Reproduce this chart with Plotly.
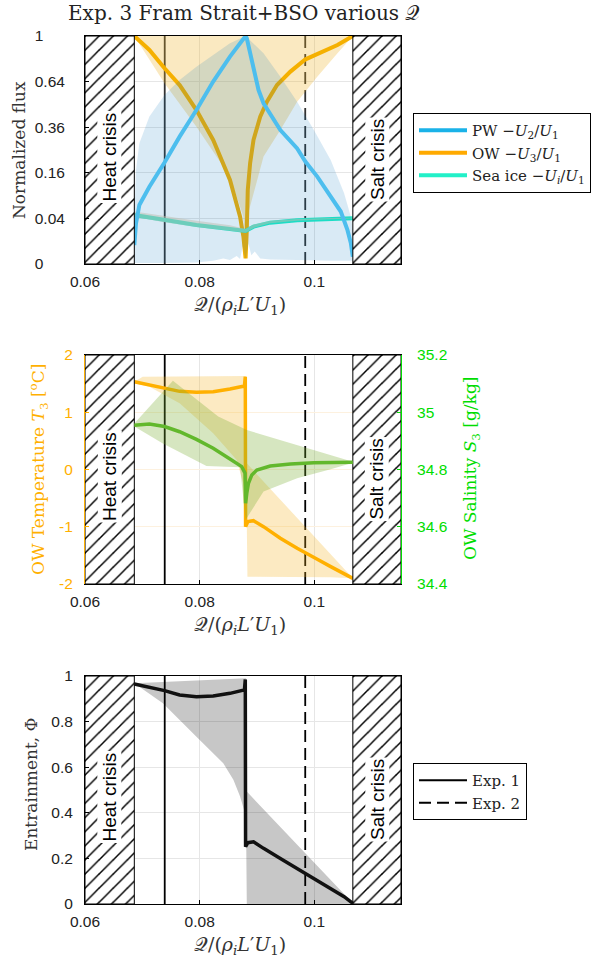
import plotly.graph_objects as go

W, H = 605, 965

# ---------------- constants / data ----------------
Q_MIN, Q_MAX = 0.06, 0.1151
HEAT_CRISIS_Q = 0.0686
SALT_CRISIS_Q = 0.1067
EXP1_Q = 0.0739
EXP2_Q = 0.0984

X_TICKS = [0.06, 0.08, 0.1]
X_TICK_LABELS = ["0.06", "0.08", "0.1"]

NB = "\u00a0"
FLUX_TICKS = [0, 0.04, 0.16, 0.36, 0.64, 1]
FLUX_TICK_LABELS = ["0" + NB * 5, "0.04", "0.16", "0.36", "0.64", "1" + NB * 5]

T_TICKS = [-2, -1, 0, 1, 2]
T_TICK_LABELS = ["-2", "-1", "0", "1", "2"]
S_TICKS = [34.4, 34.6, 34.8, 35.0, 35.2]
S_TICK_LABELS = ["34.4", "34.6", "34.8", "35", "35.2"]
PHI_TICKS = [0, 0.2, 0.4, 0.6, 0.8, 1]
PHI_TICK_LABELS = ["0", "0.2", "0.4", "0.6", "0.8", "1"]

# Panel 1: normalized fluxes
pw_q = [0.0686, 0.06889, 0.06948, 0.07123, 0.07387, 0.0765, 0.07943, 0.08235, 0.08528, 0.0880,
        0.08821, 0.08868, 0.08938, 0.09026, 0.09113, 0.09406, 0.09699, 0.09845, 0.1005, 0.10284,
        0.1046, 0.10577, 0.10636, 0.1067]
pw_flux = [0.0069, 0.0317, 0.067, 0.115, 0.198, 0.312, 0.456, 0.64, 0.827, 1.0,
           0.98, 0.881, 0.724, 0.582, 0.497, 0.345, 0.257, 0.201, 0.147, 0.087,
           0.053, 0.022, 0.0082, 0.001]

ow_q = [0.0686, 0.07123, 0.07387, 0.0765, 0.07943, 0.08235, 0.08528, 0.08704, 0.08762, 0.0880,
        0.08821, 0.08838, 0.08879, 0.08938, 0.09055, 0.09172, 0.09348, 0.09582, 0.09845, 0.10109,
        0.10402, 0.1067]
ow_flux = [1.0, 0.881, 0.737, 0.616, 0.456, 0.296, 0.136, 0.043, 0.0144, 0.0006,
           0.0222, 0.105, 0.195, 0.296, 0.418, 0.507, 0.616, 0.712, 0.806, 0.859,
           0.923, 1.0]

ice_q = [0.0686, 0.07358, 0.07943, 0.08528, 0.0880, 0.08938, 0.0923, 0.09699, 0.10284, 0.1067]
ice_flux = [0.0462, 0.0372, 0.0293, 0.0236, 0.0210, 0.0268, 0.0329, 0.0367, 0.0390, 0.0401]
ice_band_hi = [0.053, 0.045, 0.036, 0.029, 0.0235, 0.030, 0.036, 0.039, 0.0405, 0.041]
ice_band_lo = [0.043, 0.034, 0.0265, 0.0212, 0.0188, 0.0250, 0.0318, 0.0360, 0.0386, 0.0398]

pw_band_hi_q = [0.0686, 0.06889, 0.06948, 0.07123, 0.07387, 0.0765, 0.07943, 0.08235, 0.08528, 0.0880,
                0.09113, 0.09406, 0.09699, 0.09991, 0.10284, 0.10518, 0.10636, 0.1067]
pw_band_hi = [0.043, 0.170, 0.280, 0.418, 0.549, 0.651, 0.749, 0.840, 0.937, 1.0,
              0.854, 0.675, 0.507, 0.345, 0.208, 0.096, 0.043, 0.022]
pw_band_lo_q = [0.0686, 0.07358, 0.07943, 0.08235, 0.08411, 0.08528, 0.08645, 0.08704, 0.0875, 0.0880,
                0.0885, 0.0890, 0.0896, 0.09055, 0.0923, 0.09699, 0.10284, 0.1067]
pw_band_lo = [0.00002, 0.00002, 0.00004, 0.0002, 0.0006, 0.0003, 0.0012, 0.0005, 0.006, 0.0004,
              0.008, 0.0015, 0.003, 0.0006, 0.0004, 0.0003, 0.0002, 0.0002]

ow_band_q = [0.0686, 0.07387, 0.07943, 0.08528, 0.08762, 0.0880, 0.0883, 0.09113, 0.09406, 0.09699,
             0.1005, 0.10402, 0.1067]
ow_band_lo = [1.0, 0.628, 0.363, 0.147, 0.043, 0.008, 0.043, 0.222, 0.345, 0.507,
              0.675, 0.854, 1.0]
ow_band_hi = [1.0] * len(ow_band_q)

# Panel 2: OW temperature and salinity
t3_q = [0.0686, 0.07123, 0.07387, 0.0765, 0.07943, 0.08235, 0.08528, 0.0878, 0.08795, 0.0880,
        0.0884, 0.08938, 0.09113, 0.09406, 0.09699, 0.09845, 0.1005, 0.10284, 0.10518, 0.1067]
t3 = [1.534, 1.476, 1.418, 1.365, 1.348, 1.360, 1.406, 1.459, 1.622, -0.998,
      -0.911, -0.894, -0.998, -1.202, -1.377, -1.452, -1.569, -1.697, -1.813, -1.901]
t3_band_hi_q = [0.0686, 0.07006, 0.08809, 0.08821, 0.1067]
t3_band_hi = [1.534, 1.622, 1.633, 0.108, -1.901]
t3_band_lo_q = [0.0686, 0.07123, 0.0765, 0.08235, 0.08645, 0.08791, 0.08821, 0.08832, 0.10284, 0.1067]
t3_band_lo = [1.505, 1.447, 1.156, 0.632, 0.166, -0.358, -0.940, -1.872, -1.884, -1.901]

s3_q = [0.0686, 0.07123, 0.07387, 0.0765, 0.07943, 0.08235, 0.08528, 0.08733, 0.08791, 0.0880,
        0.08821, 0.0885, 0.08909, 0.08996, 0.0923, 0.09582, 0.09991, 0.1067]
s3 = [34.955, 34.959, 34.950, 34.932, 34.905, 34.874, 34.837, 34.810, 34.787, 34.682,
      34.717, 34.752, 34.781, 34.798, 34.812, 34.819, 34.824, 34.825]
s3_band_hi_q = [0.0686, 0.07533, 0.08323, 0.08821, 0.1067]
s3_band_hi = [34.961, 35.110, 34.985, 34.938, 34.827]
s3_band_lo_q = [0.0686, 0.07358, 0.08118, 0.08704, 0.0880, 0.09113, 0.09699, 0.10284, 0.1067]
s3_band_lo = [34.950, 34.891, 34.812, 34.808, 34.624, 34.723, 34.769, 34.801, 34.824]

# Panel 3: entrainment
phi_q = [0.0686, 0.07123, 0.07387, 0.0765, 0.07943, 0.08235, 0.08528, 0.0878, 0.08795, 0.0880,
         0.0884, 0.08938, 0.09113, 0.09406, 0.09699, 0.09845, 0.1005, 0.10284, 0.10518, 0.1067]
phi = [0.965, 0.950, 0.936, 0.917, 0.909, 0.912, 0.924, 0.939, 0.985, 0.251,
       0.269, 0.273, 0.244, 0.200, 0.156, 0.135, 0.105, 0.069, 0.032, 0.003]
phi_band_hi_q = [0.0686, 0.08809, 0.08821, 0.1067]
phi_band_hi = [0.968, 0.990, 0.493, 0.003]
phi_band_lo_q = [0.0686, 0.07358, 0.07943, 0.08411, 0.08587, 0.08704, 0.08791, 0.08809, 0.08821, 0.1067]
phi_band_lo = [0.968, 0.880, 0.734, 0.617, 0.545, 0.471, 0.398, 0.325, 0.0, 0.0]

# ---------------- styling ----------------
SANS = "Liberation Sans, Arial, sans-serif"
SERIF = "DejaVu Serif, serif"
C_PW = "#4DBEEE"
C_OW = "#F5B000"
C_ICE = "#22F0C8"
C_T = "#FFB000"
C_S = "#62B82C"
C_SLAB = "#00DD00"
LBL = 17
TICK = 15.5

def sq(v):
    return [x ** 0.5 for x in v]

def band(q_hi, hi, q_lo, lo):
    return list(q_hi) + list(reversed(q_lo)), list(hi) + list(reversed(lo))

fig = go.Figure()

def px_dom(a, b):
    return [1 - b / H, 1 - a / H]

XD = [85 / W, 401 / W]
Y1 = px_dom(36, 264)
Y2 = px_dom(355, 584)
Y3 = px_dom(676, 904)

def hatch(xa, ya, y0, y1):
    for a, b in [(Q_MIN, HEAT_CRISIS_Q), (SALT_CRISIS_Q, Q_MAX)]:
        fig.add_trace(go.Scatter(
            x=[a, b, b, a, a], y=[y0, y0, y1, y1, y0], xaxis=xa, yaxis=ya,
            mode="lines", fill="toself", fillcolor="white",
            fillpattern=dict(shape="/", fgcolor="black", bgcolor="white", size=10, solidity=0.15),
            line=dict(color="black", width=1), showlegend=False, hoverinfo="skip"))

def vlines(xa, ya, y0, y1, col="black"):
    fig.add_trace(go.Scatter(x=[EXP1_Q, EXP1_Q], y=[y0, y1], xaxis=xa, yaxis=ya, mode="lines",
                             line=dict(color=col, width=1.8), showlegend=False, hoverinfo="skip"))
    fig.add_trace(go.Scatter(x=[EXP2_Q, EXP2_Q], y=[y0, y1], xaxis=xa, yaxis=ya, mode="lines",
                             line=dict(color=col, width=1.8, dash="12px,6px"), showlegend=False,
                             hoverinfo="skip"))

# ---- panel 1 ----
vlines("x", "y", 0, 1, "#333333")
bx, by = band(ow_band_q, ow_band_hi, ow_band_q, ow_band_lo)
fig.add_trace(go.Scatter(x=bx, y=sq(by), xaxis="x", yaxis="y", mode="none", fill="toself",
                         fillcolor="rgba(237,177,32,0.28)", showlegend=False, hoverinfo="skip"))
fig.add_trace(go.Scatter(x=ow_q, y=sq(ow_flux), xaxis="x", yaxis="y", mode="lines",
                         line=dict(color=C_OW, width=4), showlegend=False))
fig.add_trace(go.Scatter(x=ice_q, y=sq(ice_flux), xaxis="x", yaxis="y", mode="lines",
                         line=dict(color=C_ICE, width=4), showlegend=False))
bx, by = band(pw_band_hi_q, pw_band_hi, pw_band_lo_q, pw_band_lo)
fig.add_trace(go.Scatter(x=bx, y=sq(by), xaxis="x", yaxis="y", mode="none", fill="toself",
                         fillcolor="rgba(0,114,189,0.15)", showlegend=False, hoverinfo="skip"))
bx, by = band(ice_q, ice_band_hi, ice_q, ice_band_lo)
fig.add_trace(go.Scatter(x=bx, y=sq(by), xaxis="x", yaxis="y", mode="none", fill="toself",
                         fillcolor="rgba(190,190,175,0.5)", showlegend=False, hoverinfo="skip"))
fig.add_trace(go.Scatter(x=pw_q, y=sq(pw_flux), xaxis="x", yaxis="y", mode="lines",
                         line=dict(color=C_PW, width=4), showlegend=False))
hatch("x", "y", 0, 1)
# legend entries
fig.add_trace(go.Scatter(x=[None], y=[None], xaxis="x", yaxis="y", mode="lines", line=dict(color="#1AB2E8", width=4),
                         name="PW −<i>U</i><sub>2</sub>/<i>U</i><sub>1</sub>", legend="legend"))
fig.add_trace(go.Scatter(x=[None], y=[None], xaxis="x", yaxis="y", mode="lines", line=dict(color="#FFAA00", width=4),
                         name="OW −<i>U</i><sub>3</sub>/<i>U</i><sub>1</sub>", legend="legend"))
fig.add_trace(go.Scatter(x=[None], y=[None], xaxis="x", yaxis="y", mode="lines", line=dict(color=C_ICE, width=4),
                         name="Sea ice −<i>U<sub>i</sub></i>/<i>U</i><sub>1</sub>", legend="legend"))

# ---- panel 2 ----
vlines("x2", "y2", -2, 2)
bx, by = band(t3_band_hi_q, t3_band_hi, t3_band_lo_q, t3_band_lo)
fig.add_trace(go.Scatter(x=bx, y=by, xaxis="x2", yaxis="y2", mode="none", fill="toself",
                         fillcolor="rgba(245,176,30,0.27)", showlegend=False, hoverinfo="skip"))
bx, by = band(s3_band_hi_q, s3_band_hi, s3_band_lo_q, s3_band_lo)
fig.add_trace(go.Scatter(x=bx, y=by, xaxis="x2", yaxis="y4", mode="none", fill="toself",
                         fillcolor="rgba(119,172,48,0.30)", showlegend=False, hoverinfo="skip"))
fig.add_trace(go.Scatter(x=t3_q, y=t3, xaxis="x2", yaxis="y2", mode="lines",
                         line=dict(color=C_T, width=3.5), showlegend=False))
fig.add_trace(go.Scatter(x=s3_q, y=s3, xaxis="x2", yaxis="y4", mode="lines",
                         line=dict(color=C_S, width=3.5), showlegend=False))
hatch("x2", "y2", -2, 2)

# ---- panel 3 ----
vlines("x3", "y3", 0, 1)
bx, by = band(phi_band_hi_q, phi_band_hi, phi_band_lo_q, phi_band_lo)
fig.add_trace(go.Scatter(x=bx, y=by, xaxis="x3", yaxis="y3", mode="none", fill="toself",
                         fillcolor="rgba(0,0,0,0.22)", showlegend=False, hoverinfo="skip"))
fig.add_trace(go.Scatter(x=phi_q, y=phi, xaxis="x3", yaxis="y3", mode="lines",
                         line=dict(color="#111111", width=3.5), showlegend=False))
hatch("x3", "y3", 0, 1)
fig.add_trace(go.Scatter(x=[None], y=[None], xaxis="x3", yaxis="y3", mode="lines",
                         line=dict(color="black", width=2), name="Exp. 1", legend="legend2"))
fig.add_trace(go.Scatter(x=[None], y=[None], xaxis="x3", yaxis="y3", mode="lines",
                         line=dict(color="black", width=2, dash="12px,6px"), name="Exp. 2", legend="legend2"))

# ---------------- axes ----------------
def xax(anchor):
    return dict(domain=XD, anchor=anchor, range=[Q_MIN, Q_MAX], tickvals=X_TICKS, ticktext=X_TICK_LABELS,
                automargin=False, showgrid=True, gridcolor="#E6E6E6", gridwidth=1, zeroline=False,
                showline=True, linecolor="black", linewidth=1, mirror=True,
                ticks="inside", ticklen=4, tickcolor="black",
                tickfont=dict(family=SANS, size=TICK, color="#222"), ticklabelstandoff=3)

common_y = dict(automargin=False, zeroline=False, showline=True, linecolor="black", linewidth=1, mirror=True,
                ticks="inside", ticklen=4, tickcolor="black", showgrid=True, gridcolor="#E6E6E6",
                tickfont=dict(family=SANS, size=TICK, color="#222"), ticklabelstandoff=8)

fig.update_layout(
    template="none",
    width=W, height=H, margin=dict(l=0, r=0, t=0, b=0, autoexpand=False),
    paper_bgcolor="white", plot_bgcolor="white",
    xaxis=xax("y"), xaxis2=xax("y2"), xaxis3=xax("y3"),
    yaxis=dict(domain=Y1, anchor="x", range=[0, 1], tickvals=sq(FLUX_TICKS), ticktext=FLUX_TICK_LABELS,
               **{**common_y, "ticklabelstandoff": 16}),
    yaxis2=dict(domain=Y2, anchor="x2", range=[-2, 2], tickvals=T_TICKS, ticktext=T_TICK_LABELS,
                **{**common_y, "linecolor": C_T, "mirror": False, "tickcolor": C_T,
                   "gridcolor": "#FDF1DF", "tickfont": dict(family=SANS, size=TICK, color=C_T)}),
    yaxis4=dict(domain=Y2, anchor="x2", overlaying="y2", side="right", range=[34.4, 35.2],
                automargin=False, tickvals=S_TICKS, ticktext=S_TICK_LABELS, showgrid=False, zeroline=False,
                showline=True, linecolor=C_SLAB, linewidth=1, ticks="inside", ticklen=4, tickcolor=C_SLAB,
                tickfont=dict(family=SANS, size=TICK, color=C_SLAB), ticklabelstandoff=12),
    yaxis3=dict(domain=Y3, anchor="x3", range=[0, 1], tickvals=PHI_TICKS, ticktext=PHI_TICK_LABELS,
                **common_y),
    legend=dict(x=413 / W, y=1 - 113 / H, xanchor="left", yanchor="top", bgcolor="white",
                bordercolor="black", borderwidth=1, font=dict(family=SERIF, size=15, color="#222"),
                tracegroupgap=0, itemwidth=48),
    legend2=dict(x=413 / W, y=1 - 763 / H, xanchor="left", yanchor="top", bgcolor="white",
                 bordercolor="black", borderwidth=1, font=dict(family=SERIF, size=15, color="#222"),
                 itemwidth=48),
    showlegend=True,
)

# ---------------- text annotations ----------------
ann = []

def lab(text, xp, yp, size, color="#333", angle=0, family=SERIF):
    ann.append(dict(text=text, x=xp / W, y=1 - yp / H, xref="paper", yref="paper", xanchor="center",
                    yanchor="middle", showarrow=False, textangle=angle,
                    font=dict(family=family, size=size, color=color)))

XLAB = "𝒬/(<i>ρ<sub>i</sub>L</i>′<i>U</i><sub>1</sub>)"
for ypx in (305, 625, 945):
    lab(XLAB, 240, ypx, LBL + 2)
lab("Exp. 3 Fram Strait+BSO various 𝒬", 244, 13, 20, "#222")
lab("Normalized flux", 19, 150, LBL, angle=-90)
lab("OW Temperature <i>T</i><sub>3</sub> [<sup>o</sup>C]", 39, 470, LBL, C_T, -90)
lab("OW Salinity <i>S</i><sub>3</sub> [g/kg]", 471, 469, LBL, C_SLAB, -90)
lab("Entrainment, Φ", 31, 784, LBL, angle=-90)
for xa, ya in (("x", "y"), ("x2", "y2"), ("x3", "y3")):
    ann.append(dict(text="Heat crisis", x=(Q_MIN + HEAT_CRISIS_Q) / 2, y=0.47, xref=xa, yref=ya + " domain",
                    xanchor="center", yanchor="middle",
                    textangle=-90, showarrow=False, bgcolor="white", borderpad=1,
                    font=dict(family=SANS, size=19, color="black")))
    ann.append(dict(text="Salt crisis", x=(SALT_CRISIS_Q + Q_MAX) / 2, y=0.46, xref=xa, yref=ya + " domain",
                    xanchor="center", yanchor="middle",
                    textangle=-90, showarrow=False, bgcolor="white", borderpad=1,
                    font=dict(family=SANS, size=19, color="black")))
fig.update_layout(annotations=ann)

fig.write_html("out.html", config={"displayModeBar": False},
               post_script="document.body.style.margin='0px';")
